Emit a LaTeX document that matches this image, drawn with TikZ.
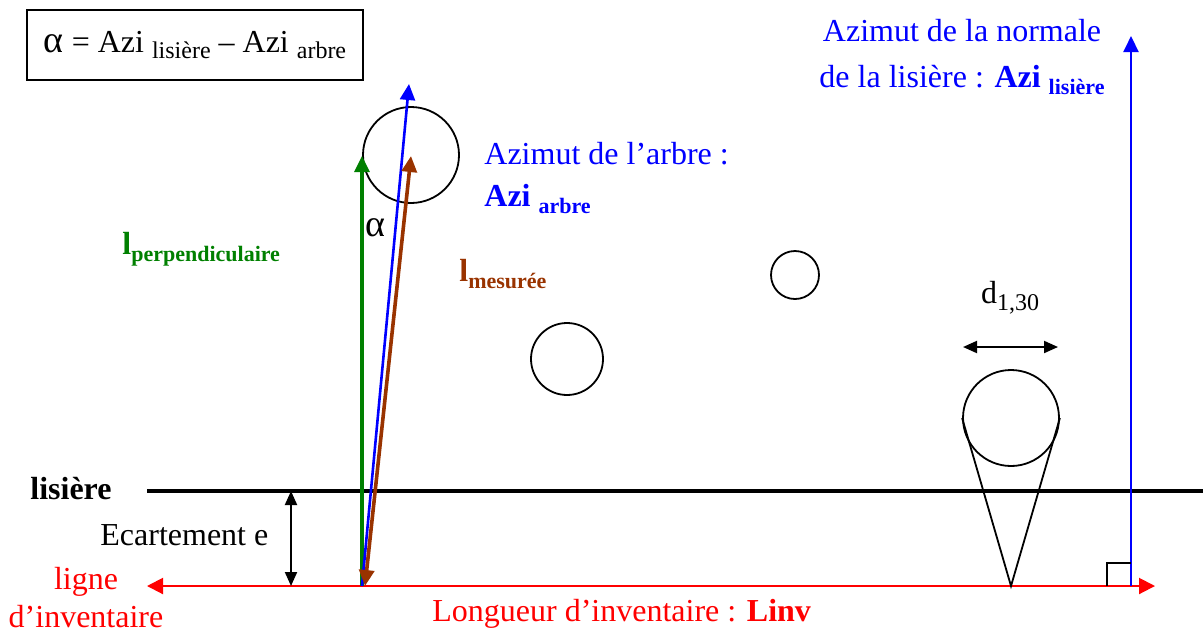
\documentclass[tikz,border=0pt]{standalone}
\usepackage{fontspec}
\setmainfont{Liberation Serif}
\usetikzlibrary{arrows.meta}
\definecolor{brn}{RGB}{153,51,0}
\definecolor{grn}{RGB}{0,128,0}
\definecolor{blu}{RGB}{0,0,255}
\definecolor{rd}{RGB}{255,0,0}
\newcommand{\lo}[2][11]{\raisebox{-0.45ex}{\fontsize{#1}{#1}\selectfont #2}}
\tikzset{
  lbl/.style={inner sep=0pt, font=\fontsize{16}{19}\selectfont},
  tree/.style={draw, circle, line width=0.9pt, inner sep=0pt},
  bigtip/.tip={Triangle[length=8pt,width=7.5pt]},
  smalltip/.tip={Triangle[length=7pt,width=6pt]},
  redtip/.tip={Triangle[length=8pt,width=8pt]},
}
\begin{document}
\begin{tikzpicture}[x=0.5pt,y=-0.5pt]
\useasboundingbox (0,0) rectangle (1203,633);
% formula box
\node[draw, line width=0.8pt, minimum width=168pt, minimum height=35pt, inner sep=0pt,
  font=\fontsize{16}{19}\selectfont] (formula) at (195,45)
  {{\fontsize{19}{19}\selectfont α} = Azi \lo[12]{lisière} – Azi \lo[12]{arbre}};
% trees
\node[tree, minimum size=48pt] (t1) at (411,155) {};
\node[tree, minimum size=24pt] (t2) at (795,275) {};
\node[tree, minimum size=36pt] (t3) at (567,359) {};
\node[tree, minimum size=48pt] (t4) at (1011,418) {};
% coordinates
\coordinate (lisL) at (147,491);
\coordinate (lisR) at (1203,491);
\coordinate (invL) at (147,586);
\coordinate (invR) at (1155,586);
\coordinate (eTop) at (291,491);
\coordinate (eBot) at (291,586);
\coordinate (o) at (362,586);
\coordinate (ob) at (365,586);
\coordinate (gT) at (362,156);
\coordinate (bT) at (409,84);
\coordinate (mT) at (411,156);
\coordinate (cone) at (1011,586);
\coordinate (dL) at (963,347);
\coordinate (dR) at (1058,347);
\coordinate (nB) at (1131,586);
\coordinate (nT) at (1131,36);
\coordinate (sqA) at (1107,586);
\coordinate (sqB) at (1107,563);
\coordinate (sqC) at (1131,563);
% lines
\draw[line width=2pt] (lisL) -- (lisR);
\draw[rd, line width=1pt, redtip-redtip] (invL) -- (invR);
\draw[line width=1pt, smalltip-smalltip] (eTop) -- (eBot);
\draw[grn, line width=1.6pt, -bigtip] (o) -- (gT);
\draw[blu, line width=1.3pt, -bigtip] (o) -- (bT);
\draw[brn, line width=1.8pt, bigtip-bigtip] (ob) -- (mT);
\draw[line width=0.9pt] (t4.west) -- (cone) -- (t4.east);
\draw[line width=1pt, smalltip-smalltip] (dL) -- (dR);
\draw[blu, line width=1pt, -bigtip] (nB) -- (nT);
\draw[line width=0.8pt] (sqA) -- (sqB) -- (sqC);
% labels
\node[lbl, blu, align=center] (lnorm) at (962,57)
  {Azimut de la normale\\[4pt]de la lisière : \textbf{Azi \lo{lisière}}};
\node[lbl, blu, anchor=west] (larbre1) at (484,154) {Azimut de l’arbre :};
\node[lbl, blu, anchor=west] (larbre2) at (484,199) {\textbf{Azi \lo{arbre}}};
\node[lbl, grn, anchor=west] (lperp) at (122,249) {\textbf{l\lo{perpendiculaire}}};
\node[lbl, brn, anchor=west] (lmes) at (459,274) {\textbf{l\lo{mesurée}}};
\node[lbl, anchor=center, font=\fontsize{19}{19}\selectfont] (lalpha) at (375,228) {α};
\node[lbl, anchor=center] (ld) at (1010,298) {d\lo[12]{1,30}};
\node[lbl, anchor=west] (llis) at (30,489) {\textbf{lisière}};
\node[lbl, anchor=west] (lecart) at (100,535) {Ecartement e};
\node[lbl, rd, align=center] (lligne) at (86,598) {ligne\\d’inventaire};
\node[lbl, rd, anchor=west] (llong) at (432,614) {Longueur d’inventaire : \textbf{Linv}};
\end{tikzpicture}
\end{document}
